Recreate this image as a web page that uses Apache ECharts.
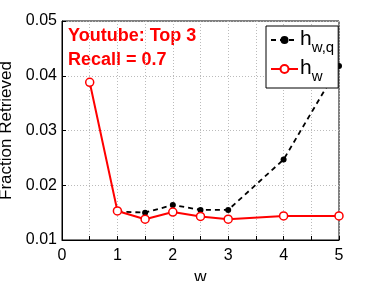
<!DOCTYPE html>
<html><head><meta charset="utf-8">
<script src="https://cdn.jsdelivr.net/npm/echarts@6/dist/echarts.min.js"></script>
<style>html,body{margin:0;padding:0;background:#fff}#c{width:374px;height:281px}</style>
</head><body><div id="c"></div>
<script>
const wValues = [0.5, 1, 1.5, 2, 2.5, 3, 4, 5];
const hwqW = [1, 1.5, 2, 2.5, 3, 4, 5];
const hwq = [0.0152, 0.0150, 0.0164, 0.0155, 0.0155, 0.0247, 0.0418];
const hw = [0.0388, 0.0153, 0.0138, 0.0151, 0.0143, 0.0138, 0.0144, 0.0144];
const xTicks = [0, 1, 2, 3, 4, 5];
const yTicks = [0.01, 0.02, 0.03, 0.04, 0.05];
const font = 'Liberation Sans, Arial, sans-serif';
const chart = echarts.init(document.getElementById('c'), null, {renderer: 'canvas'});
const gridLine = {show: true, lineStyle: {color: '#bbb', type: [1, 2], width: 1}};
chart.setOption({
  animation: false,
  backgroundColor: '#fff',
  grid: {left: 62, right: 35, top: 21, bottom: 41, show: true, borderColor: '#000', borderWidth: 1,
    containLabel: false, outerBoundsMode: 'none'},
  xAxis: {
    type: 'value', min: 0, max: 5, interval: 0.5,
    name: 'w', nameLocation: 'middle', nameGap: 26,
    nameTextStyle: {fontFamily: font, fontSize: 17, color: '#000'},
    axisLine: {show: true, onZero: false, lineStyle: {color: '#000'}},
    axisTick: {show: true, inside: true, length: 4, lineStyle: {color: '#000'}},
    axisLabel: {fontFamily: font, fontSize: 16, color: '#000', margin: 8,
      formatter: v => xTicks.includes(v) ? String(v) : ''},
    splitLine: gridLine
  },
  yAxis: {
    type: 'value', min: 0.01, max: 0.05, interval: 0.01,
    name: 'Fraction Retrieved', nameLocation: 'middle', nameGap: 42,
    nameTextStyle: {fontFamily: font, fontSize: 17, color: '#000'},
    axisLine: {show: true, lineStyle: {color: '#000'}},
    axisTick: {show: true, inside: true, length: 4, lineStyle: {color: '#000'}},
    axisLabel: {fontFamily: font, fontSize: 16, color: '#000', margin: 5,
      formatter: v => { const t = yTicks.find(y => Math.abs(y - v) < 1e-9); return t !== undefined ? t.toFixed(2) : ''; }},
    splitLine: gridLine
  },
  legend: {
    orient: 'vertical', left: 266, top: 26,
    backgroundColor: '#fff', borderColor: '#000', borderWidth: 1,
    padding: [3, 4, 4, 4], itemGap: 3, itemWidth: 27, itemHeight: 10,
    data: ['hwq', 'hw'],
    formatter: n => n === 'hwq' ? '{m|h}{s|w,q}' : '{m|h}{s|w}',
    textStyle: {
      padding: [0, 0, 0, -3],
      rich: {
        m: {fontFamily: font, fontSize: 21, color: '#000', lineHeight: 22, verticalAlign: 'top'},
        s: {fontFamily: font, fontSize: 15, color: '#000', lineHeight: 15, padding: [11, 0, 0, 0], verticalAlign: 'top'}
      }
    }
  },
  graphic: [
    {type: 'text', left: 68, top: 27, style: {text: 'Youtube: Top 3', fill: '#ff0000', font: 'bold 18px Liberation Sans, Arial, sans-serif'}},
    {type: 'text', left: 68, top: 51, style: {text: 'Recall = 0.7', fill: '#ff0000', font: 'bold 18px Liberation Sans, Arial, sans-serif'}}
  ],
  series: [
    {name: 'hwq', type: 'line', data: hwqW.map((w, i) => [w, hwq[i]]),
      symbol: 'circle', symbolSize: 6, z: 3,
      itemStyle: {color: '#000'},
      lineStyle: {color: '#000', width: 1.8, type: [5, 4]}},
    {name: 'hw', type: 'line', data: wValues.map((w, i) => [w, hw[i]]),
      symbol: 'circle', symbolSize: 8, showAllSymbol: true, z: 4,
      itemStyle: {color: '#fff', borderColor: '#ff0000', borderWidth: 1.5},
      lineStyle: {color: '#ff0000', width: 2}}
  ]
});
</script></body></html>
